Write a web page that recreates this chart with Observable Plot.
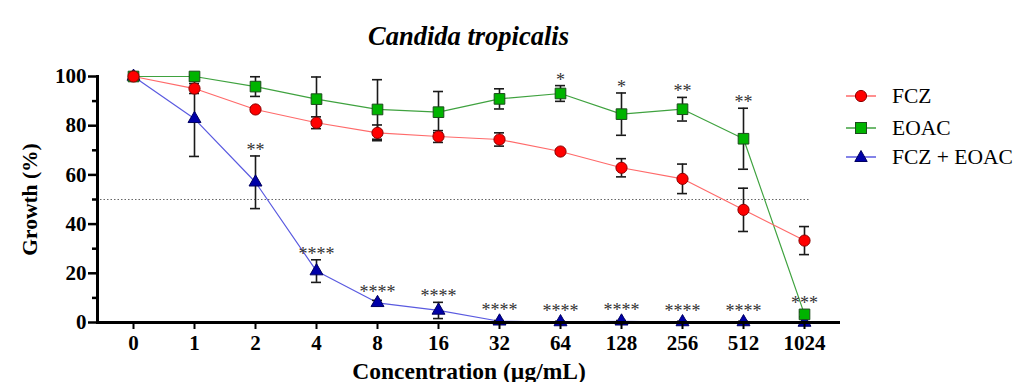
<!DOCTYPE html>
<html>
<head>
<meta charset="utf-8">
<script src="https://cdn.jsdelivr.net/npm/d3@7"></script>
<script src="https://cdn.jsdelivr.net/npm/@observablehq/plot@0.6"></script>
<style>
  body { margin: 0; background: #ffffff; }
  #wrap { position: relative; width: 1018px; height: 382px; font-family: "Liberation Serif", "Times New Roman", serif; }
  #chart { position: absolute; left: 0; top: 0; }
  #title { position: absolute; left: 97px; width: 743px; top: 23px; text-align: center; font-weight: bold; font-style: italic; font-size: 26.5px; line-height: 26px; color: #000; }
  .leg { position: absolute; left: 844px; height: 24px; display: flex; align-items: center; font-size: 21.5px; color: #000; white-space: nowrap; }
  .leg svg { margin-right: 14px; }
</style>
</head>
<body>
<div id="wrap">
  <div id="chart"></div>
  <div id="title">Candida tropicalis</div>
</div>
<script>
// ---- data ----
const concentrations = ["0", "1", "2", "4", "8", "16", "32", "64", "128", "256", "512", "1024"];

const fczMean = [100, 95.1, 86.6, 81.2, 77.1, 75.6, 74.4, 69.5, 62.9, 58.4, 45.8, 33.3];
const fczSD   = [0, 2.0, 0.8, 2.4, 3.2, 2.4, 2.7, 0.8, 3.7, 6.0, 8.8, 5.7];

const eoacMean = [100, 100, 95.9, 90.8, 86.6, 85.5, 90.9, 93.1, 84.7, 86.7, 74.7, 3.3];
const eoacSD   = [0, 0.5, 4.0, 9.0, 12.1, 8.4, 4.1, 3.2, 8.6, 4.8, 12.4, 1.0];

const comboMean = [100, 82.8, 57.0, 20.9, 8.0, 4.9, 0.5, 0.2, 0.5, 0.2, 0.2, 0.0];
const comboSD   = [0, 15.3, 10.7, 4.6, 1.0, 3.3, 0.3, 0.3, 0.3, 0.3, 0.3, 0.0];

const eoacSig  = ["", "", "", "", "", "", "", "*", "*", "**", "**", "***"];
const comboSig = ["", "", "**", "****", "****", "****", "****", "****", "****", "****", "****", ""];

const seriesNames = ["FCZ", "EOAC", "FCZ + EOAC"];

// ---- styles ----
const seriesStyle = {
  "FCZ":        {line: "#ff6a6a", fill: "#ff0000", stroke: "#8a0000", symbol: "circle",   r: 5.6},
  "EOAC":       {line: "#3fa23f", fill: "#00b400", stroke: "#1c4a1c", symbol: "square",   r: 6.0},
  "FCZ + EOAC": {line: "#5a5ae0", fill: "#0000a8", stroke: "#000060", symbol: "triangle", r: 4.8}
};

// ---- build table ----
const means = [fczMean, eoacMean, comboMean];
const sds = [fczSD, eoacSD, comboSD];
const rows = [];
seriesNames.forEach((s, k) => {
  concentrations.forEach((c, i) => {
    rows.push({series: s, conc: c, mean: means[k][i], sd: sds[k][i]});
  });
});
const errRows = rows.filter(d => d.sd > 0);

const sigRows = [];
concentrations.forEach((c, i) => {
  if (eoacSig[i]) sigRows.push({conc: c, label: eoacSig[i], y: Math.max(eoacMean[i] + eoacSD[i], eoacMean[i] + 2.1)});
  if (comboSig[i]) sigRows.push({conc: c, label: comboSig[i], y: Math.max(comboMean[i] + comboSD[i], comboMean[i] + 2.1)});
});

const drawOrder = ["FCZ + EOAC", "EOAC", "FCZ"];
const marks = [
  Plot.ruleY([50], {stroke: "#666", strokeWidth: 1, strokeDasharray: "1.5,2", insetLeft: 3, insetRight: 30}),
];
drawOrder.forEach(s => {
  marks.push(Plot.line(rows.filter(d => d.series === s), {x: "conc", y: "mean", stroke: seriesStyle[s].line, strokeWidth: 1.2}));
});
marks.push(
  Plot.ruleX(errRows, {x: "conc", y1: d => d.mean - d.sd, y2: d => d.mean + d.sd, stroke: "#1a1a1a", strokeWidth: 1.6}),
  Plot.ruleY(errRows, {x1: "conc", x2: "conc", y: d => d.mean + d.sd, stroke: "#1a1a1a", strokeWidth: 1.6, insetLeft: -5, insetRight: -5}),
  Plot.ruleY(errRows, {x1: "conc", x2: "conc", y: d => Math.max(0, d.mean - d.sd), stroke: "#1a1a1a", strokeWidth: 1.6, insetLeft: -5, insetRight: -5})
);
drawOrder.forEach(s => {
  const st = seriesStyle[s];
  marks.push(Plot.dot(rows.filter(d => d.series === s), {x: "conc", y: "mean", symbol: st.symbol, r: st.r, fill: st.fill, stroke: st.stroke, strokeWidth: 1}));
});
marks.push(
  Plot.text(sigRows, {x: "conc", y: "y", text: "label", lineAnchor: "bottom", fontSize: 18, fontWeight: "normal", fill: "#333", fontFamily: "'Liberation Serif', serif"}),
  Plot.axisY({ticks: [0, 20, 40, 60, 80, 100], tickSize: 9, tickPadding: 2, strokeWidth: 2.5, fontSize: 21, label: null}),
  Plot.axisY({ticks: [], label: "Growth (%)", labelAnchor: "center", labelOffset: 76, labelArrow: "none", fontSize: 21.5}),
  Plot.axisY([10, 30, 50, 70, 90], {tickSize: 5, strokeWidth: 2.5, tickFormat: () => "", label: null}),
  Plot.axisX({tickSize: 7, tickPadding: 6, strokeWidth: 2, fontSize: 21, label: null}),
  Plot.axisX({ticks: [], label: "Concentration (µg/mL)", labelAnchor: "center", labelOffset: 56, labelArrow: "none", fontSize: 23.5}),
  Plot.frame({anchor: "left", strokeWidth: 3, stroke: "#000"}),
  Plot.ruleY([0], {strokeWidth: 3, stroke: "#000"})
);

const plot = Plot.plot({
  width: 1018,
  height: 382,
  marginLeft: 97,
  marginRight: 178,
  marginTop: 76,
  marginBottom: 60,
  x: {type: "point", domain: concentrations, padding: 0.5},
  y: {domain: [0, 100]},
  style: {fontFamily: "'Liberation Serif', 'Times New Roman', serif", fontWeight: "bold", background: "transparent", color: "#000", overflow: "visible"},
  marks
});
document.getElementById("chart").appendChild(plot);

// ---- legend (right side) ----
const legendTops = [84, 116, 145];
const wrap = document.getElementById("wrap");
const sym = {
  circle: (st) => `<circle cx="17" cy="12" r="5.6" fill="${st.fill}" stroke="${st.stroke}" stroke-width="1"/>`,
  square: (st) => `<rect x="11.5" y="6.5" width="11" height="11" fill="${st.fill}" stroke="${st.stroke}" stroke-width="1"/>`,
  triangle: (st) => `<path d="M17,5.5 L23.2,16.5 L10.8,16.5 Z" fill="${st.fill}" stroke="${st.stroke}" stroke-width="1"/>`
};
seriesNames.forEach((s, k) => {
  const st = seriesStyle[s];
  const div = document.createElement("div");
  div.className = "leg";
  div.style.top = legendTops[k] + "px";
  div.innerHTML = `<svg width="34" height="24"><line x1="2" x2="32" y1="12" y2="12" stroke="${st.line}" stroke-width="1.5"/>${sym[st.symbol](st)}</svg><span>${s}</span>`;
  wrap.appendChild(div);
});
</script>
</body>
</html>
